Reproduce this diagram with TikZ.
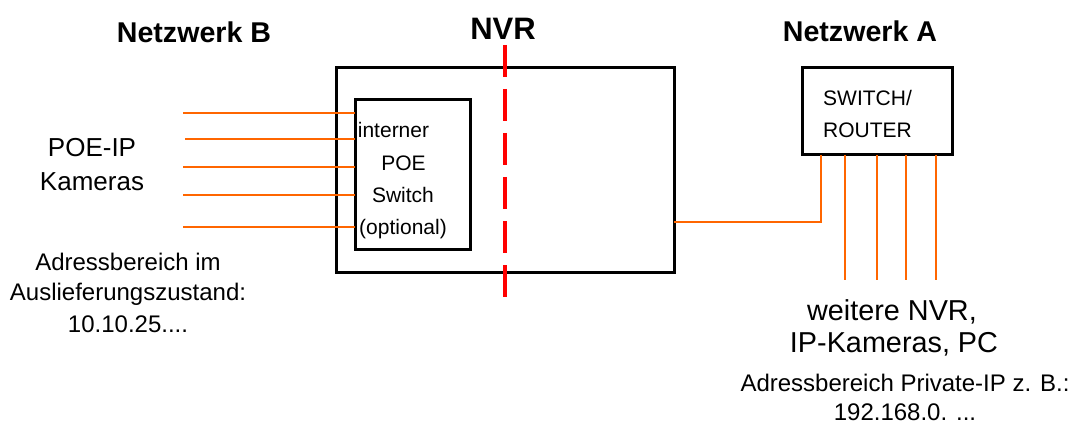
\documentclass[tikz,border=0pt]{standalone}
\usepackage{fontspec}
\setmainfont{Liberation Sans}
\definecolor{orng}{HTML}{FF6600}
\definecolor{rd}{HTML}{FF0000}
\begin{document}
\begin{tikzpicture}[x=1pt,y=-1pt,
  boxshape/.style={draw=black, line width=3pt, rectangle, inner sep=0pt, outer sep=0pt},
  wire/.style={draw=orng, line width=2.8pt},
  sep/.style={draw=rd, line width=4pt, dash pattern=on 32pt off 12pt},
  txt/.style={inner sep=0pt, anchor=base},
  ttl/.style={txt, font=\bfseries\fontsize{28.6}{34}\selectfont},
  big/.style={txt, font=\fontsize{26}{31}\selectfont},
  mid/.style={txt, font=\fontsize{24}{29}\selectfont},
  sml/.style={txt, font=\fontsize{21}{25}\selectfont},
  lrg/.style={txt, font=\fontsize{28.8}{34}\selectfont}]
\useasboundingbox[fill=white] (0,0) rectangle (1074,425);

% boxes
\node[boxshape, minimum width=338pt, minimum height=204pt] (nvr) at (505,170) {};
\node[boxshape, minimum width=115pt, minimum height=149pt] (poesw) at (412.5,174.5) {};
\node[boxshape, minimum width=150pt, minimum height=87pt] (router) at (877,111.5) {};

% separator
\coordinate (sepT) at (505,45);
\coordinate (sepB) at (505,297);
\draw[sep] (sepT) -- (sepB);

% camera wires
\coordinate (c1) at (183,113);
\coordinate (c2) at (185,139);
\coordinate (c3) at (183,167);
\coordinate (c4) at (183,195);
\coordinate (c5) at (183,227);
\foreach \c in {c1,c2,c3,c4,c5}
  \draw[wire] (\c) -- (\c -| poesw.west);

% uplink
\coordinate (up) at (821,222);
\draw[wire] (router.south -| up) -- (up) -- (nvr.east |- up);

% network A wires
\coordinate (d1) at (845,280);
\coordinate (d2) at (877,280);
\coordinate (d3) at (906,280);
\coordinate (d4) at (936,280);
\foreach \d in {d1,d2,d3,d4}
  \draw[wire] (router.south -| \d) -- (\d);

% titles
\node[ttl] (tB) at (194,43) {Netzwerk B};
\node[txt, font=\bfseries\fontsize{31}{36}\selectfont] (tN) at (503,40) {NVR};
\node[ttl] (tA) at (860,42) {Netzwerk A};

% left texts
\node[big] (l1) at (92,157) {POE-IP};
\node[big] (l2) at (92,190) {Kameras};
\node[mid] (l3) at (128,270) {Adressbereich im};
\node[mid] (l4) at (128,300) {Auslieferungszustand:};
\node[mid] (l5) at (128,332) {10.10.25....};

% internal switch text
\node[sml] (s1) at (393.5,138) {interner};
\node[sml] (s2) at (403.5,171) {POE};
\node[sml] (s3) at (403,202) {Switch};
\node[sml] (s4) at (403,234) {(optional)};

% router text
\node[sml, anchor=base west] (r1) at (823,106) {SWITCH/};
\node[sml, anchor=base west] (r2) at (823,138) {ROUTER};

% right texts
\node[lrg] (w1) at (892,320) {weitere NVR,};
\node[lrg] (w2) at (894,352) {IP-Kameras, PC};
\node[mid] (w3) at (905,391) {Adressbereich Private-IP z. B.:};
\node[mid] (w4) at (905,420) {192.168.0. ...};
\end{tikzpicture}
\end{document}
